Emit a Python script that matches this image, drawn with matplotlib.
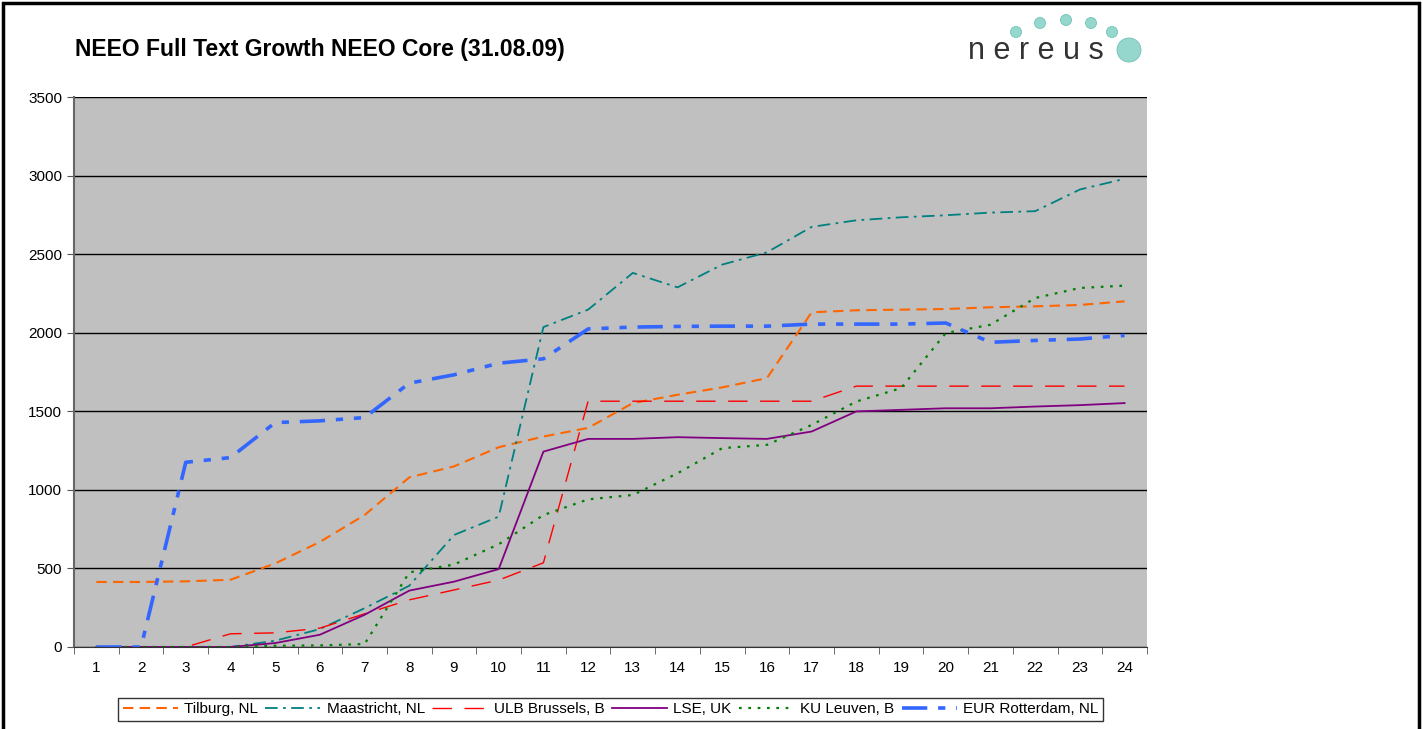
import matplotlib.pyplot as plt
from matplotlib.patches import Circle, Rectangle

months = list(range(1, 25))

tilburg = [414, 414, 418, 428, 532, 669, 840, 1080, 1150, 1272, 1340, 1395,
           1553, 1606, 1653, 1712, 2131, 2144, 2148, 2152, 2163, 2169, 2178, 2201]
maastricht = [0, 0, 0, 0, 40, 114, 247, 390, 713, 830, 2037, 2148,
              2382, 2290, 2435, 2513, 2675, 2717, 2736, 2749, 2766, 2775, 2913, 2981]
ulb = [0, 0, 0, 84, 90, 120, 211, 300, 363, 426, 536, 1565,
       1565, 1565, 1565, 1565, 1565, 1661, 1661, 1661, 1661, 1661, 1661, 1661]
lse = [0, 0, 0, 0, 25, 78, 205, 359, 416, 496, 1244, 1325,
       1325, 1336, 1330, 1325, 1372, 1500, 1510, 1520, 1520, 1531, 1540, 1553]
leuven = [0, 0, 0, 0, 8, 10, 19, 475, 525, 654, 840, 940,
          968, 1106, 1266, 1287, 1414, 1563, 1648, 1999, 2052, 2222, 2286, 2301]
rotterdam = [0, 0, 1176, 1206, 1429, 1440, 1461, 1680, 1733, 1807, 1835, 2025,
             2037, 2041, 2043, 2043, 2056, 2056, 2056, 2063, 1940, 1952, 1961, 1984]

yticks = list(range(0, 3501, 500))
title = "NEEO Full Text Growth NEEO Core (31.08.09)"

plt.rcParams['font.family'] = ['Liberation Sans', 'DejaVu Sans']

fig = plt.figure(figsize=(14.23, 7.29), dpi=100)
ax = fig.add_axes([0.052, 0.1125, 0.754, 0.754])
ax.set_facecolor('#C0C0C0')

# series
ax.plot(months, tilburg, color='#FF6600', lw=1.5, dashes=(5, 3), label='Tilburg, NL')
ax.plot(months, maastricht, color='#008080', lw=1.3, dashes=(7, 3, 1.5, 3), label='Maastricht, NL')
ax.plot(months, ulb, color='#FF0000', lw=1.0, dashes=(14, 9), label='ULB Brussels, B')
ax.plot(months, lse, color='#800080', lw=1.3, label='LSE, UK')
ax.plot(months, leuven, color='#008000', lw=1.6, dashes=(1.2, 3), label='KU Leuven, B')
ax.plot(months, rotterdam, color='#3366FF', lw=2.6, dashes=(7, 3, 2, 3, 2, 3), label='EUR Rotterdam, NL')

ax.set_xlim(0.5, 24.5)
ax.set_ylim(0, 3500)
ax.set_yticks(yticks)
ax.yaxis.grid(True, color='black', lw=1)
ax.set_axisbelow(True)

ax.set_xticks(months)
ax.set_xticks([m + 0.5 for m in range(0, 25)], minor=True)
ax.tick_params(axis='x', which='major', length=0, pad=10, labelsize=11)
ax.tick_params(axis='x', which='minor', length=5, direction='out', color='#555555')
ax.tick_params(axis='y', length=5, direction='out', labelsize=11, color='#555555')
for s in ['top', 'right']:
    ax.spines[s].set_visible(False)
ax.spines['left'].set_color('#666666')
ax.spines['left'].set_linewidth(1.5)
ax.spines['bottom'].set_color('#333333')

leg = ax.legend(loc='upper center', bbox_to_anchor=(0.50, -0.078), ncol=6,
                fontsize=11, frameon=True, fancybox=False, handlelength=3.6,
                handletextpad=0.4, columnspacing=0.5, borderpad=0.3)
leg.get_frame().set_edgecolor('black')
leg.get_frame().set_linewidth(1)

fig.text(0.053, 0.932, title, fontsize=16.5, fontweight='bold', va='center')

# nereus logo
fig.text(0.680, 0.930, 'n e r e u s', fontsize=22, color='#333333', va='center')
px = fig.dpi_scale_trans
for cx, cy, r in [(1016, 32, 5.5), (1040, 23, 5.5), (1066, 20, 5.5), (1091, 23, 5.5),
                  (1112, 32, 5.5), (1129, 50, 12)]:
    fig.patches.append(Circle((cx / 100, (729 - cy) / 100), r / 100, transform=px,
                              fc='#95D6CD', ec='#72C2B8', lw=0.6))

# outer frame
fig.patches.append(Rectangle((0.002, -0.01), 0.995, 1.006, transform=fig.transFigure,
                             fill=False, ec='black', lw=2.5))

fig.savefig('out.png', dpi=100)
